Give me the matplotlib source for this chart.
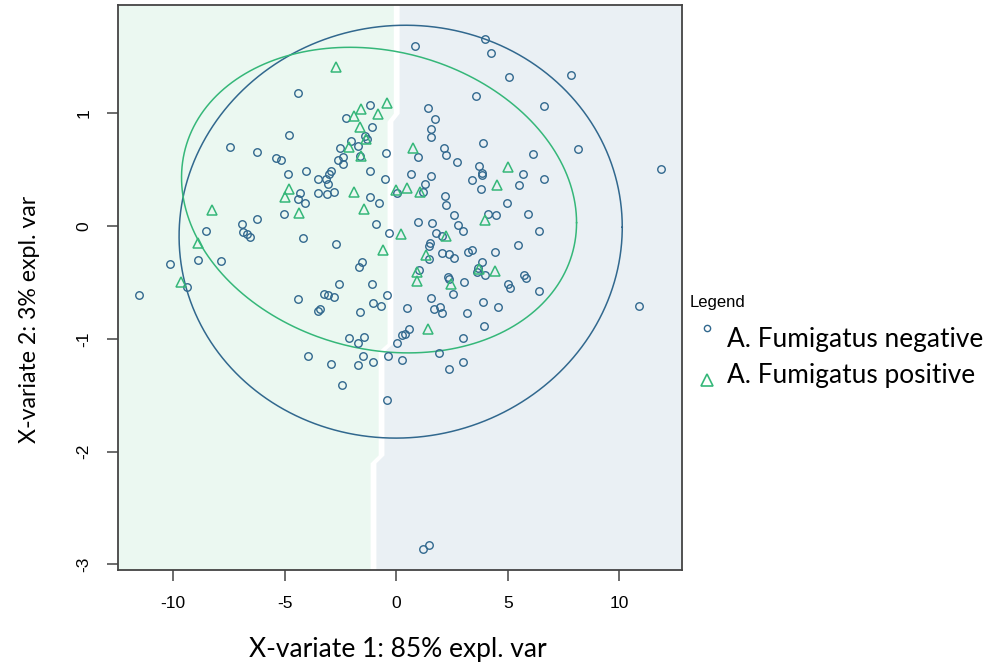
import numpy as np
import matplotlib.pyplot as plt
from matplotlib.lines import Line2D

# scores of each sample on the first two X-variates
neg_x = [-4.42, -4.79, -7.44, -6.26, -5.40, -5.17, -4.84, -4.04, -3.49, -4.31,
         -4.42, -4.09, -3.49, -5.02, -6.26, -8.52, -6.93, -6.86, -6.70, -6.56,
         -4.17, -10.13, -8.89, -7.87, -9.39, -11.52, -4.42, -3.49, -3.94,
         0.86, 3.98, 4.25, 3.59, -1.17, -2.26, 1.44, 1.73, 1.55, 1.56,
         3.88, -1.07, -1.40, -1.31, -2.03, -1.70, -2.52, -1.62, -2.39, -2.61,
         -2.37, -0.44, 0.96, 2.16, 2.22, 2.74, 3.71, 3.86, 3.83, 3.39,
         3.82, -1.19, -0.49, 0.65, 1.57, 1.30, -2.91, -3.00, -3.16, -3.07,
         -3.12, -2.78, 0.02, 1.22, -1.17, -0.76, 2.19, 2.25, 2.58, 2.77,
         2.98, 4.12, 4.46, -0.91, -0.32, 0.96, 1.62, 1.78, 2.07,
         5.06, 7.85, 6.61, 6.13, 8.17, 11.89, 5.70, 6.63, 5.49, 4.96, 5.92, 6.40,
         -2.69, 1.52, 1.47, 1.46, 2.05, 2.38, 2.59, 3.23, 3.41, 4.42,
         -1.52, -1.65, 1.02, 2.31, 2.35, 3.86, 3.68, 3.61, 3.97, -2.58,
         -1.10, 3.05, 2.53, -3.24, -3.04, -2.79, -0.43, 1.56, -1.03, -0.70,
         -3.40, -1.61, 0.48, 1.71, 1.96, 2.07, 3.17, 3.88, 4.55, 3.92,
         0.59, 0.39, 0.26, 0.05, -2.10, -1.46, -1.71, 3.01, -1.50, -1.73,
         -1.03, -0.38, 0.26, 1.92, 3.01, 2.37, -2.91, -2.42, -0.43,
         5.45, 5.74, 5.81, 5.01, 5.10, 6.40, 10.87, 1.21, 1.45]
neg_y = [1.18, 0.81, 0.70, 0.66, 0.60, 0.59, 0.46, 0.49, 0.42, 0.29,
         0.24, 0.20, 0.29, 0.11, 0.06, -0.04, 0.02, -0.05, -0.07, -0.10,
         -0.11, -0.34, -0.30, -0.31, -0.54, -0.61, -0.65, -0.75, -1.15,
         1.60, 1.66, 1.53, 1.15, 1.07, 0.96, 1.05, 0.95, 0.86, 0.79,
         0.74, 0.88, 0.80, 0.77, 0.75, 0.71, 0.69, 0.62, 0.61, 0.59,
         0.55, 0.65, 0.61, 0.69, 0.63, 0.57, 0.53, 0.47, 0.45, 0.41,
         0.33, 0.49, 0.42, 0.46, 0.44, 0.37, 0.49, 0.46, 0.42, 0.37,
         0.28, 0.30, 0.29, 0.30, 0.26, 0.20, 0.27, 0.19, 0.10, 0.01,
         -0.04, 0.11, 0.10, 0.02, -0.06, 0.04, 0.03, -0.06, -0.09,
         1.32, 1.34, 1.06, 0.64, 0.68, 0.51, 0.46, 0.42, 0.36, 0.20, 0.11, -0.04,
         -0.16, -0.15, -0.18, -0.29, -0.24, -0.25, -0.28, -0.23, -0.21, -0.23,
         -0.32, -0.36, -0.39, -0.45, -0.47, -0.32, -0.37, -0.41, -0.43, -0.51,
         -0.51, -0.50, -0.60, -0.60, -0.61, -0.63, -0.61, -0.64, -0.68, -0.71,
         -0.74, -0.76, -0.73, -0.74, -0.72, -0.77, -0.77, -0.67, -0.72, -0.89,
         -0.91, -0.96, -0.97, -1.04, -0.99, -0.98, -1.04, -0.99, -1.15, -1.23,
         -1.21, -1.15, -1.19, -1.13, -1.21, -1.27, -1.22, -1.41, -1.54,
         -0.17, -0.43, -0.46, -0.51, -0.55, -0.58, -0.71, -2.86, -2.83]

pos_x = [-2.69, -1.58, -1.90, -0.43, -0.80, -1.61, -1.35, -2.13, -1.58, 0.75,
         -4.79, -4.97, -4.37, -8.26, -8.90, -9.66, -1.91, -1.43, -0.01, 0.50,
         1.07, 4.51, 5.01, 3.98, 0.20, 2.23, -0.58, 1.34, 0.93, 0.92,
         2.47, 3.70, 4.43, 1.44]
pos_y = [1.41, 1.04, 0.98, 1.09, 0.99, 0.88, 0.77, 0.70, 0.62, 0.69,
         0.33, 0.26, 0.12, 0.14, -0.15, -0.50, 0.30, 0.15, 0.32, 0.34,
         0.30, 0.36, 0.52, 0.05, -0.07, -0.09, -0.21, -0.26, -0.41, -0.49,
         -0.51, -0.38, -0.40, -0.91]

# 95% ellipses: centre, semi axes and tilt
neg_centre = [0.20, -0.05]
neg_axes = [9.94, 1.83]
neg_tilt = 0.04
pos_centre = [-0.77, 0.23]
pos_axes = [8.86, 1.34]
pos_tilt = -0.20

# border of the predicted class areas
border_y = [1.96, 1.00, 0.93, -1.04, -1.11, -2.03, -2.10, -3.05]
border_x = [0.00, 0.00, -0.28, -0.28, -0.68, -0.68, -1.04, -1.04]

xticks = [-10, -5, 0, 5, 10]
yticks = [-3, -2, -1, 0, 1]
xlim = [-12.48, 12.82]
ylim = [-3.05, 1.96]

labels = ["A. Fumigatus negative", "A. Fumigatus positive"]
blue = '#31688E'
green = '#35B779'


def ellipse(centre, axes, tilt):
    t = np.linspace(0, 2 * np.pi, 400)
    x = centre[0] + axes[0] * np.cos(t)
    y = centre[1] + axes[1] * np.sin(t) + tilt * np.cos(t)
    return x, y


W, H = 987, 667
fig = plt.figure(figsize=(W / 100, H / 100), dpi=100)
ax = fig.add_axes([118 / W, 1 - 570 / H, 564 / W, 565 / H])

# background areas, white gap along the border
gap = 0.13
bx = np.array(border_x)
ax.fill_betweenx(border_y, xlim[0], bx - gap, color='#ebf8f1', lw=0)
ax.fill_betweenx(border_y, bx + gap, xlim[1], color='#eaf0f4', lw=0)

ex, ey = ellipse(neg_centre, neg_axes, neg_tilt)
ax.plot(ex, ey, color=blue, lw=1.1)
ex, ey = ellipse(pos_centre, pos_axes, pos_tilt)
ax.plot(ex, ey, color=green, lw=1.1)

ax.plot(neg_x, neg_y, 'o', ls='none', ms=5.4, mfc='none', mec=blue, mew=1.0)
ax.plot(pos_x, pos_y, '^', ls='none', ms=7.5, mfc='none', mec=green, mew=1.1)

ax.set_xlim(xlim)
ax.set_ylim(ylim)
ax.set_xticks(xticks)
ax.set_yticks(yticks)
ax.set_xticklabels([str(v) for v in xticks], family='Liberation Sans', fontsize=12.5)
ax.set_yticklabels([str(v) for v in yticks], family='Liberation Sans', fontsize=12.5,
                   rotation=90, va='center')
ax.tick_params(direction='out', length=8, width=1.1, color='#444444', pad=11)
for s in ax.spines.values():
    s.set_color('#444444')
    s.set_linewidth(1.3)

fig.text(398 / W, 1 - 650 / H, "X-variate 1: 85% expl. var", family='Lato',
         fontsize=19, ha='center', va='center')
fig.text(30 / W, 1 - 319 / H, "X-variate 2: 3% expl. var", family='Lato',
         fontsize=16.7, ha='center', va='center', rotation=90)

# legend beside the plot
fig.text(690 / W, 1 - 302 / H, "Legend", family='Liberation Sans', fontsize=12,
         ha='left', va='center')
fig.add_artist(Line2D([707 / W], [1 - 328 / H], transform=fig.transFigure,
                      marker='o', ms=4.5, mfc='none', mec=blue, mew=1.0, ls='none'))
fig.add_artist(Line2D([707 / W], [1 - 380 / H], transform=fig.transFigure,
                      marker='^', ms=9, mfc='none', mec=green, mew=1.2, ls='none'))
fig.text(727 / W, 1 - 340 / H, labels[0], family='Lato', fontsize=18.9,
         ha='left', va='center')
fig.text(727 / W, 1 - 375 / H, labels[1], family='Lato', fontsize=18.9,
         ha='left', va='center')

fig.savefig('out.png', dpi=100)
